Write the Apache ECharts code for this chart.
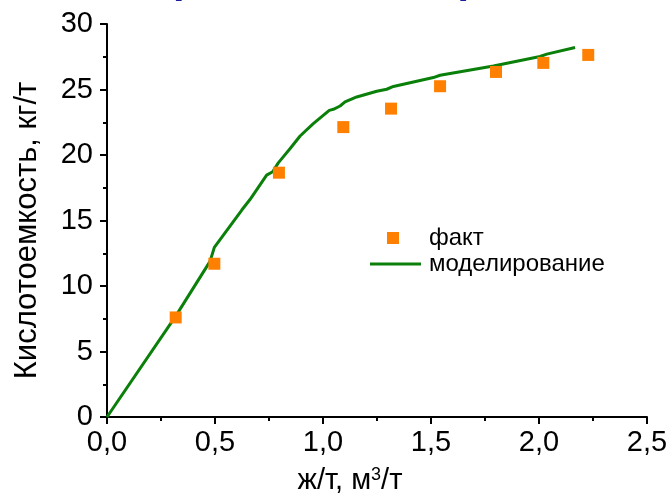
<!DOCTYPE html>
<html>
<head>
<meta charset="utf-8">
<script src="https://cdn.jsdelivr.net/npm/echarts@6/dist/echarts.min.js"></script>
<style>
  html, body { margin: 0; padding: 0; background: #fff; }
  #chart { width: 671px; height: 495px; }
</style>
</head>
<body>
<div id="chart"></div>
<script>
// факт (measured points)
var factX = [0.318, 0.497, 0.796, 1.094, 1.315, 1.542, 1.801, 2.02, 2.228];
var factY = [7.6, 11.7, 18.65, 22.13, 23.54, 25.25, 26.34, 27.03, 27.64];

// моделирование (model curve)
var modelX = [0, 0.318, 0.477, 0.497, 0.624, 0.662, 0.739, 0.767, 0.793, 0.813, 0.847, 0.894, 0.955,
  1.029, 1.048, 1.079, 1.102, 1.156, 1.249, 1.295, 1.326, 1.511, 1.542, 1.789, 2.005, 2.036, 2.167];
var modelY = [0, 7.7, 11.88, 12.95, 15.8, 16.6, 18.46, 18.72, 19.4, 19.8, 20.48, 21.45, 22.39,
  23.41, 23.49, 23.74, 24.05, 24.43, 24.87, 25.02, 25.23, 25.91, 26.09, 26.8, 27.52, 27.7, 28.21];

var xTicks = { min: 0, max: 2.5, interval: 0.5 };
var yTicks = { min: 0, max: 30, interval: 5 };

function pairs(xs, ys) {
  var out = [];
  for (var i = 0; i < xs.length; i++) out.push([xs[i], ys[i]]);
  return out;
}

var font = 'Liberation Sans, Arial, sans-serif';
var green = '#0a800a';
var orange = '#ff8000';
var chart = echarts.init(document.getElementById('chart'));

var axisCommon = {
  axisLine: { show: true, onZero: false, lineStyle: { color: '#000', width: 2 } },
  axisTick: { show: true, inside: false, length: 7, lineStyle: { color: '#000', width: 2 } },
  minorTick: { show: true, splitNumber: 2, length: 4, lineStyle: { color: '#000', width: 2 } },
  splitLine: { show: false },
  axisLabel: { color: '#000', fontSize: 29, fontFamily: font }
};

var option = {
  backgroundColor: '#fff',
  animation: false,
  grid: { left: 107, right: 24, top: 24, bottom: 78, outerBoundsMode: 'none', containLabel: false },
  // обрезанный заголовок сверху (видны только низы скобок)
  graphic: [
    { type: 'text', left: 168, top: -41, style: { text: '(', fontSize: 42, fontWeight: 'bold', fill: '#1c1c9c', fontFamily: font } },
    { type: 'text', left: 460, top: -41, style: { text: ')', fontSize: 42, fontWeight: 'bold', fill: '#1c1c9c', fontFamily: font } }
  ],
  xAxis: Object.assign({}, axisCommon, {
    type: 'value',
    min: xTicks.min, max: xTicks.max, interval: xTicks.interval,
    name: 'ж/т, м{sup|3}/т',
    nameLocation: 'middle',
    nameGap: 49,
    nameTextStyle: {
      color: '#000', fontSize: 29, fontFamily: font, padding: [0, 54, 0, 0],
      rich: { sup: { fontSize: 18, fontFamily: font, color: '#000', verticalAlign: 'top', padding: [0, 0, 12, 0] } }
    },
    axisLabel: Object.assign({}, axisCommon.axisLabel, {
      margin: 11,
      formatter: function (v) { return v.toFixed(1).replace('.', ','); }
    })
  }),
  yAxis: Object.assign({}, axisCommon, {
    type: 'value',
    min: yTicks.min, max: yTicks.max, interval: yTicks.interval,
    name: 'Кислотоемкость, кг/т',
    nameLocation: 'middle',
    nameGap: 64,
    nameTextStyle: { color: '#000', fontSize: 31, fontFamily: font, padding: [0, 20, 0, 0] },
    axisLabel: Object.assign({}, axisCommon.axisLabel, { margin: 14 })
  }),
  legend: [
    {
      data: ['факт'],
      orient: 'vertical',
      left: 387, top: 226, padding: 0,
      itemWidth: 12, itemHeight: 12,
      textStyle: { color: '#000', fontSize: 24, fontFamily: font, padding: [0, 0, 0, 25] }
    },
    {
      data: [{ name: 'моделирование', icon: 'rect' }],
      orient: 'vertical',
      left: 370, top: 252, padding: 0,
      itemWidth: 51, itemHeight: 3,
      textStyle: { color: '#000', fontSize: 24, fontFamily: font, padding: [0, 0, 0, 3] }
    }
  ],
  series: [
    {
      name: 'моделирование',
      type: 'line',
      data: pairs(modelX, modelY),
      showSymbol: false,
      symbol: 'none',
      lineStyle: { color: green, width: 3 },
      itemStyle: { color: green },
      z: 2
    },
    {
      name: 'факт',
      type: 'scatter',
      data: pairs(factX, factY),
      symbol: 'rect',
      symbolSize: 12,
      itemStyle: { color: orange, opacity: 1 },
      z: 3
    }
  ]
};

chart.setOption(option);
</script>
</body>
</html>
